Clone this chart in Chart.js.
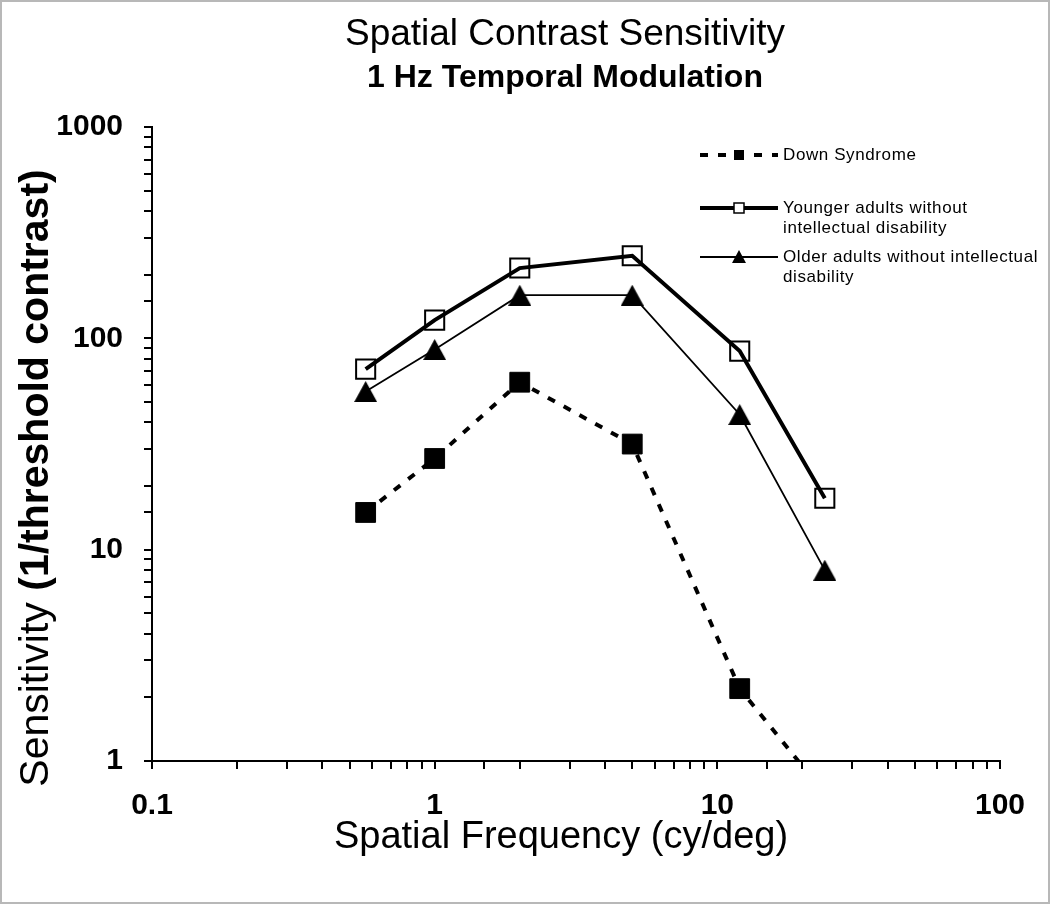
<!DOCTYPE html>
<html lang="en">
  <head>
    <meta charset="UTF-8" />
    <title>Spatial Contrast Sensitivity</title>
    <style>
      * {
        box-sizing: border-box;
        margin: 0;
        padding: 0;
      }
      body {
        background: #fff;
        font-family: "Liberation Sans", Arial, sans-serif;
      }
      #wrap {
        position: relative;
        width: 1050px;
        height: 904px;
      }
    </style>
  </head>
  <body>
    <div id="wrap"><canvas id="chart"></canvas></div>

    <script src="https://cdn.jsdelivr.net/npm/chart.js"></script>
    <script>
      // spatial frequency (cy/deg)
      const frequencies = [0.57, 1, 2, 5, 12, 24];
      // sensitivity = 1 / threshold contrast
      const downSyndrome = [15, 27, 62, 31.6, 2.2, 0.7];
      const youngerAdults = [71.5, 122, 215, 246, 87, 17.5];
      const olderAdults = [56, 88.5, 160, 160, 43.6, 8];

      const seriesNames = [
        "Down Syndrome",
        ["Younger adults without", "intellectual disability"],
        ["Older adults without intellectual", "disability"],
      ];

      const FONT = '"Liberation Sans", Arial, sans-serif';

      function toPoints(values) {
        return frequencies.map((f, i) => ({ x: f, y: values[i] }));
      }

      function decadeLabel(value) {
        const l = Math.log10(value);
        if (Math.abs(l - Math.round(l)) < 1e-6) {
          return String(Number(value.toPrecision(3)));
        }
        return "";
      }

      // filled triangle centred on its own box (Excel style marker)
      function triangleMarker(w, h) {
        const c = document.createElement("canvas");
        c.width = w;
        c.height = h;
        const g = c.getContext("2d");
        g.fillStyle = "#000";
        g.beginPath();
        g.moveTo(w / 2, 0);
        g.lineTo(w, h);
        g.lineTo(0, h);
        g.closePath();
        g.fill();
        return c;
      }

      // titles, axis titles, legend and frame
      const decorations = {
        id: "decorations",
        afterDraw(chart) {
          const ctx = chart.ctx;
          ctx.save();
          ctx.fillStyle = "#000";
          ctx.textAlign = "center";
          ctx.textBaseline = "middle";

          ctx.font = "37px " + FONT;
          ctx.fillText("Spatial Contrast Sensitivity", 565, 35);
          ctx.font = "bold 32px " + FONT;
          ctx.fillText("1 Hz Temporal Modulation", 565, 78);

          ctx.font = "38px " + FONT;
          ctx.fillText("Spatial Frequency (cy/deg)", 561, 838);

          // y title: regular + bold parts
          ctx.save();
          ctx.translate(37, 478);
          ctx.rotate(-Math.PI / 2);
          const partA = "Sensitivity ";
          const partB = "(1/threshold contrast)";
          ctx.font = "41px " + FONT;
          const wA = ctx.measureText(partA).width;
          ctx.font = "bold 41px " + FONT;
          const wB = ctx.measureText(partB).width;
          let start = -(wA + wB) / 2;
          ctx.textAlign = "left";
          ctx.font = "41px " + FONT;
          ctx.fillText(partA, start, 0);
          ctx.font = "bold 41px " + FONT;
          ctx.fillText(partB, start + wA, 0);
          ctx.restore();

          // legend
          const rows = [155, 208, 257];
          const x0 = 700,
            x1 = 778,
            xm = 739;
          chart.data.datasets.forEach((ds, i) => {
            const y = rows[i];
            ctx.save();
            ctx.strokeStyle = "#000";
            ctx.lineWidth = ds.borderWidth;
            ctx.setLineDash(ds.borderDash || []);
            ctx.beginPath();
            ctx.moveTo(x0, y);
            ctx.lineTo(x1, y);
            ctx.stroke();
            ctx.setLineDash([]);
            if (i === 2) {
              ctx.fillStyle = "#000";
              ctx.beginPath();
              ctx.moveTo(xm, y - 7);
              ctx.lineTo(xm + 7, y + 6);
              ctx.lineTo(xm - 7, y + 6);
              ctx.closePath();
              ctx.fill();
            } else if (ds.pointBackgroundColor === "#000") {
              ctx.fillStyle = "#000";
              ctx.fillRect(xm - 5, y - 5, 10, 10);
            } else {
              ctx.fillStyle = "#fff";
              ctx.fillRect(xm - 5, y - 5, 10, 10);
              ctx.lineWidth = 1.5;
              ctx.strokeRect(xm - 5, y - 5, 10, 10);
            }
            ctx.restore();

            ctx.font = "17px " + FONT;
            ctx.letterSpacing = "0.6px";
            ctx.textAlign = "left";
            const lines = [].concat(seriesNames[i]);
            lines.forEach((t, k) => ctx.fillText(t, 783, y + k * 20));
            ctx.letterSpacing = "0px";
          });

          // frame
          ctx.strokeStyle = "#b8b8b8";
          ctx.lineWidth = 2;
          ctx.strokeRect(1, 1, chart.width - 2, chart.height - 2);
          ctx.restore();
        },
      };

      const tickFont = { family: FONT, size: 30, weight: "bold" };

      new Chart(document.getElementById("chart"), {
        type: "line",
        data: {
          datasets: [
            {
              label: "Down Syndrome",
              data: toPoints(downSyndrome),
              borderColor: "#000",
              borderWidth: 4,
              borderDash: [8, 10],
              pointStyle: "rect",
              pointRadius: 14,
              pointBackgroundColor: "#000",
              pointBorderColor: "#000",
              pointBorderWidth: 1,
            },
            {
              label: "Younger adults without intellectual disability",
              data: toPoints(youngerAdults),
              borderColor: "#000",
              borderWidth: 4,
              pointStyle: "rect",
              pointRadius: 13.5,
              pointBackgroundColor: "rgba(0,0,0,0)",
              pointBorderColor: "#000",
              pointBorderWidth: 2,
            },
            {
              label: "Older adults without intellectual disability",
              data: toPoints(olderAdults),
              borderColor: "#000",
              borderWidth: 1.8,
              pointStyle: triangleMarker(23, 21),
              pointRadius: 12,
              pointBackgroundColor: "#000",
              pointBorderColor: "#000",
              pointBorderWidth: 1,
            },
          ],
        },
        options: {
          responsive: true,
          maintainAspectRatio: false,
          animation: false,
          events: [],
          layout: { padding: { top: 127, right: 50, left: 0, bottom: 0 } },
          plugins: {
            legend: { display: false },
            tooltip: { enabled: false },
          },
          elements: { line: { tension: 0, fill: false } },
          scales: {
            x: {
              type: "logarithmic",
              min: 0.1,
              max: 100,
              afterFit(scale) {
                scale.height = 143;
              },
              border: { display: true, color: "#000", width: 2 },
              grid: {
                drawOnChartArea: false,
                drawTicks: true,
                tickLength: 8,
                color: "#000",
                lineWidth: 2,
              },
              ticks: {
                autoSkip: false,
                maxRotation: 0,
                padding: 19,
                color: "#000",
                font: tickFont,
                callback: (v) => decadeLabel(v),
              },
            },
            y: {
              type: "logarithmic",
              min: 1,
              max: 1000,
              afterFit(scale) {
                scale.width = 152;
              },
              border: { display: true, color: "#000", width: 2 },
              grid: {
                drawOnChartArea: false,
                drawTicks: true,
                tickLength: 8,
                color: "#000",
                lineWidth: 2,
              },
              ticks: {
                autoSkip: false,
                padding: 21,
                color: "#000",
                font: tickFont,
                callback: (v) => decadeLabel(v),
              },
            },
          },
        },
        plugins: [decorations],
      });
    </script>
  </body>
</html>
